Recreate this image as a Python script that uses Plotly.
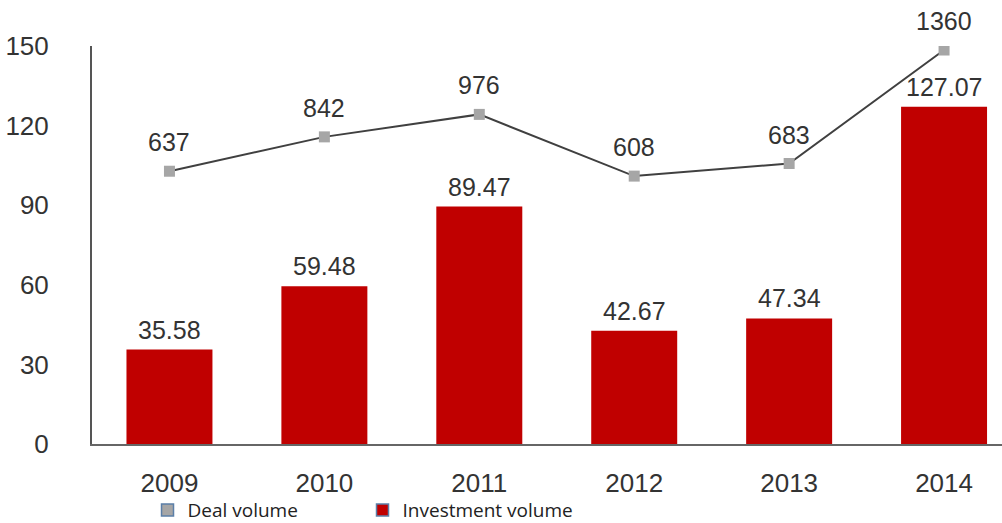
import plotly.graph_objects as go

years = ["2009", "2010", "2011", "2012", "2013", "2014"]
investment_volume = [35.58, 59.48, 89.47, 42.67, 47.34, 127.07]
deal_volume = [637, 842, 976, 608, 683, 1360]
y_ticks = [0, 30, 60, 90, 120, 150]

RED = "#c00000"
GRAY = "#a6a6a6"
TXT = "#333333"
FONT = "Liberation Sans, Arial, sans-serif"

fig = go.Figure()

# legend-only entries
fig.add_trace(go.Bar(x=[years[0]], y=[None], name="Deal volume",
                     marker=dict(color=GRAY, line=dict(color="#5b7fa8", width=1.5)),
                     showlegend=True, hoverinfo="skip"))
fig.add_trace(go.Bar(x=[years[0]], y=[None], name="Investment volume",
                     marker=dict(color=RED, line=dict(color="#5b7fa8", width=1.5)),
                     showlegend=True, hoverinfo="skip"))

fig.add_trace(go.Bar(x=years, y=investment_volume, name="Investment volume",
                     marker=dict(color=RED, line=dict(width=0)),
                     width=0.555, showlegend=False))

fig.add_trace(go.Scatter(x=years, y=deal_volume, yaxis="y2", mode="lines+markers",
                         name="Deal volume",
                         line=dict(color="#404040", width=2),
                         marker=dict(symbol="square", size=11, color=GRAY),
                         showlegend=False))

annotations = []
for i, v in enumerate(investment_volume):
    annotations.append(dict(x=i, y=v, xref="x", yref="y", text=f"{v:.2f}",
                            showarrow=False, yanchor="bottom", yshift=4,
                            font=dict(family=FONT, size=25, color=TXT)))
for i, v in enumerate(deal_volume):
    annotations.append(dict(x=i, y=v, xref="x", yref="y2", text=str(v),
                            showarrow=False, yanchor="bottom", yshift=13,
                            font=dict(family=FONT, size=25, color=TXT)))

fig.update_layout(
    width=1002, height=523,
    margin=dict(l=92, r=0, t=46, b=79, autoexpand=False),
    paper_bgcolor="white", plot_bgcolor="white",
    barmode="overlay",
    font=dict(family=FONT, color=TXT),
    xaxis=dict(type="category", range=[-0.5, 5.374], showgrid=False, automargin=False,
               showline=True, linecolor="#666666", linewidth=2,
               ticks="outside", ticklen=15, tickcolor="rgba(0,0,0,0)",
               tickfont=dict(family=FONT, size=26, color=TXT)),
    yaxis=dict(range=[0, 150], tickvals=y_ticks, showgrid=False, zeroline=False,
               automargin=False,
               showline=True, linecolor="#555555", linewidth=2,
               ticks="outside", ticklen=36, tickcolor="rgba(0,0,0,0)",
               tickfont=dict(family=FONT, size=26, color=TXT)),
    yaxis2=dict(overlaying="y", range=[-990, 1384], visible=False),
    legend=dict(orientation="h", x=0.061, xanchor="left", y=-0.166, yanchor="middle",
                bgcolor="rgba(0,0,0,0)",
                font=dict(family="Open Sans", size=19, color="#222222"),
                entrywidth=170, traceorder="normal"),
    annotations=annotations,
)

fig.write_html("out.html", config={"displayModeBar": False},
               post_script="document.body.style.margin='0';document.body.style.overflow='hidden';")
